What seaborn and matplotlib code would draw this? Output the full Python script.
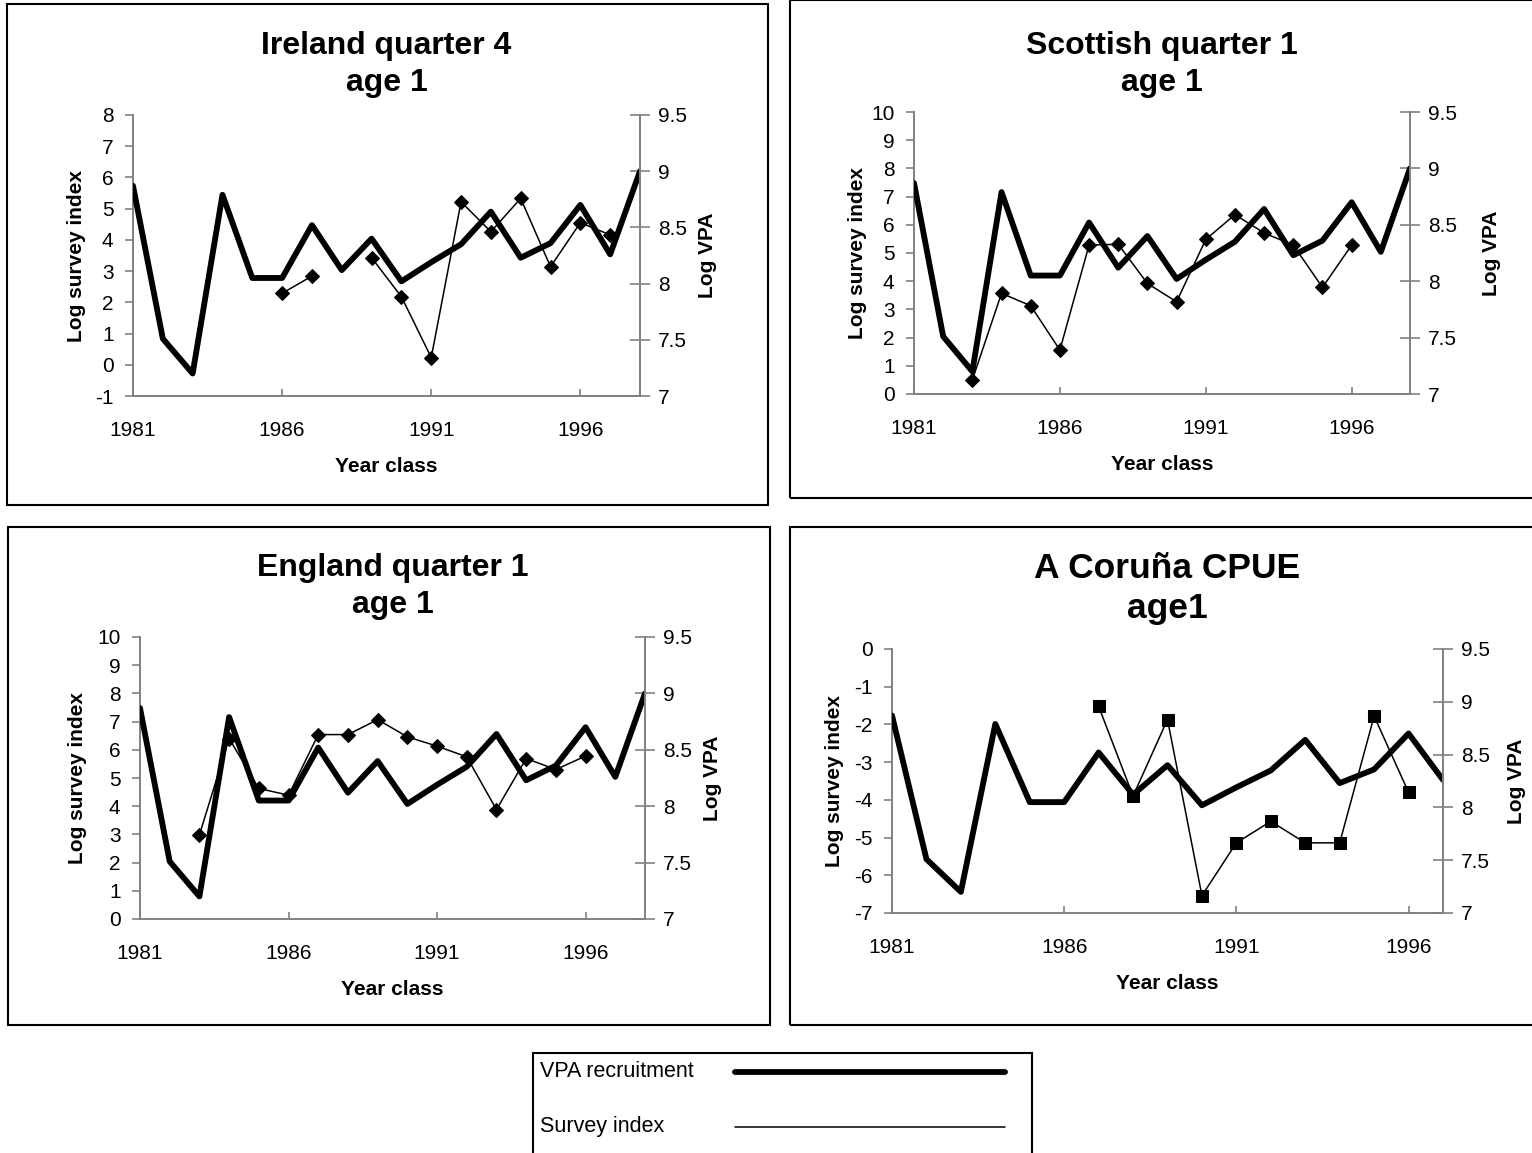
import numpy as np
import pandas as pd
import seaborn as sns
import matplotlib.pyplot as plt
from matplotlib.patches import Rectangle

nan = np.nan

years = list(range(1981, 1999))
# log VPA recruitment (same series in every panel, right axis)
vpa = [8.87, 7.51, 7.20, 8.79, 8.05, 8.05, 8.52, 8.12, 8.40, 8.02,
       8.19, 8.35, 8.64, 8.23, 8.36, 8.70, 8.26, 9.00]
# log survey indices (left axis)
ireland_q4 = [nan, nan, nan, nan, nan, 2.29, 2.84, nan, 3.43, 2.18,
              0.23, 5.22, 4.26, 5.33, 3.14, 4.55, 4.16, nan]
scottish_q1 = [nan, nan, 0.50, 3.57, 3.13, 1.56, 5.28, 5.31, 3.92, 3.27,
               5.48, 6.36, 5.71, 5.28, 3.78, 5.28, nan, nan]
england_q1 = [nan, nan, 2.98, 6.40, 4.63, 4.39, 6.54, 6.54, 7.07, 6.46,
              6.13, 5.75, 3.88, 5.69, 5.30, 5.78, nan, nan]
coruna_cpue = [nan, nan, nan, nan, nan, nan, -1.52, -3.90, -1.87, -6.54,
               -5.14, -4.57, -5.14, -5.14, -1.78, -3.80, nan, nan]

titles = ["Ireland quarter 4\nage 1", "Scottish quarter 1\nage 1",
          "England quarter 1\nage 1", "A Coruña CPUE\nage1"]
surveys = [ireland_q4, scottish_q1, england_q1, coruna_cpue]
left_ranges = [(-1, 8), (0, 10), (0, 10), (-7, 0)]
x_ends = [1998, 1998, 1998, 1997]
markers = ["D", "D", "D", "s"]

W, H = 1532, 1153
# axes boxes in pixels: left, top, right, bottom
ax_boxes = [(133, 115, 640, 396), (914, 112, 1410, 394),
            (140, 637, 645, 919), (892, 649, 1443, 913)]
# panel frames in pixels
frames = [(7, 4, 768, 505), (790, 0, 1540, 498),
          (8, 527, 770, 1025), (790, 527, 1540, 1025)]
title_sizes = [23, 23, 23, 25.5]
title_pads = [17, 15, 17, 22]
left_pads = [6.6, 3, 7.3, 7.3]
right_pads = [8, 18, 8, 12]

sns.set_style("white")
plt.rcParams['font.family'] = ['Liberation Sans', 'DejaVu Sans']
plt.rcParams['axes.unicode_minus'] = False
plt.rcParams['text.color'] = 'black'
plt.rcParams['axes.labelcolor'] = 'black'
plt.rcParams['xtick.color'] = 'black'
plt.rcParams['ytick.color'] = 'black'
grey = "#808080"

fig = plt.figure(figsize=(W / 100, H / 100), dpi=100)

def rect(l, t, r, b):
    return [l / W, 1 - b / H, (r - l) / W, (b - t) / H]

for f in frames:
    l, t, r, b = f
    fig.patches.append(Rectangle((l / W, 1 - b / H), (r - l) / W, (b - t) / H,
                                 transform=fig.transFigure, fill=False,
                                 edgecolor="black", lw=1.5))

for i in range(4):
    ax = fig.add_axes(rect(*ax_boxes[i]))
    df = pd.DataFrame({"year": years, "index": surveys[i]})
    df["seg"] = df["index"].isna().cumsum()
    df = df.dropna()
    sns.lineplot(data=df, x="year", y="index", units="seg", estimator=None,
                 ax=ax, color="black", lw=1.1, marker=markers[i],
                 markersize=8 if markers[i] == "s" else 7,
                 markeredgecolor="black", legend=False)
    ax2 = ax.twinx()
    sns.lineplot(x=years, y=vpa, ax=ax2, color="black", lw=4.2, legend=False)

    lo, hi = left_ranges[i]
    ax.set_ylim(lo, hi)
    ax.set_yticks(range(lo, hi + 1))
    ax2.set_ylim(7, 9.5)
    ax2.set_yticks([7, 7.5, 8, 8.5, 9, 9.5])
    ax2.set_yticklabels(["7", "7.5", "8", "8.5", "9", "9.5"])
    ax.set_xlim(1981, x_ends[i])
    ax.set_xticks([1981, 1986, 1991, 1996])

    for a in (ax, ax2):
        for s in a.spines.values():
            s.set_visible(False)
    ax.spines["left"].set_visible(True)
    ax.spines["bottom"].set_visible(True)
    ax2.spines["right"].set_visible(True)
    for s in (ax.spines["left"], ax.spines["bottom"], ax2.spines["right"]):
        s.set_color(grey)
        s.set_linewidth(1.4)

    ax.tick_params(axis="y", direction="out", length=6, width=1.2, color=grey,
                   labelcolor="black", labelsize=15, pad=8, left=True)
    ax.tick_params(axis="x", direction="in", length=5, width=1.2, color=grey,
                   labelcolor="black", labelsize=15, pad=18, bottom=True)
    ax2.tick_params(axis="y", direction="inout", length=14, width=1.2,
                    color=grey, labelcolor="black", labelsize=15, pad=6,
                    right=True)

    ax.set_xlabel("Year class", fontsize=15, fontweight="bold", labelpad=12)
    ax.set_ylabel("Log survey index", fontsize=15, fontweight="bold",
                  labelpad=left_pads[i])
    ax2.set_ylabel("Log VPA", fontsize=15, fontweight="bold",
                   labelpad=right_pads[i])
    ax.set_title(titles[i], fontsize=title_sizes[i], fontweight="bold",
                 pad=title_pads[i], linespacing=1.3, color="black")

# legend box at the bottom (text left, sample line right)
lax = fig.add_axes(rect(533, 1053, 1032, 1170))
lax.set_xlim(533, 1032)
lax.set_ylim(1170, 1053)
lax.set_xticks([])
lax.set_yticks([])
for s in lax.spines.values():
    s.set_color("black")
    s.set_linewidth(1.5)
lax.text(540, 1072, "VPA recruitment", fontsize=15.5, va="center", ha="left")
lax.text(540, 1127, "Survey index", fontsize=15.5, va="center", ha="left")
lax.plot([735, 1005], [1072, 1072], color="black", lw=4.2)
lax.plot([735, 1005], [1127, 1127], color="black", lw=1.1)

fig.savefig("out.png", dpi=100)
